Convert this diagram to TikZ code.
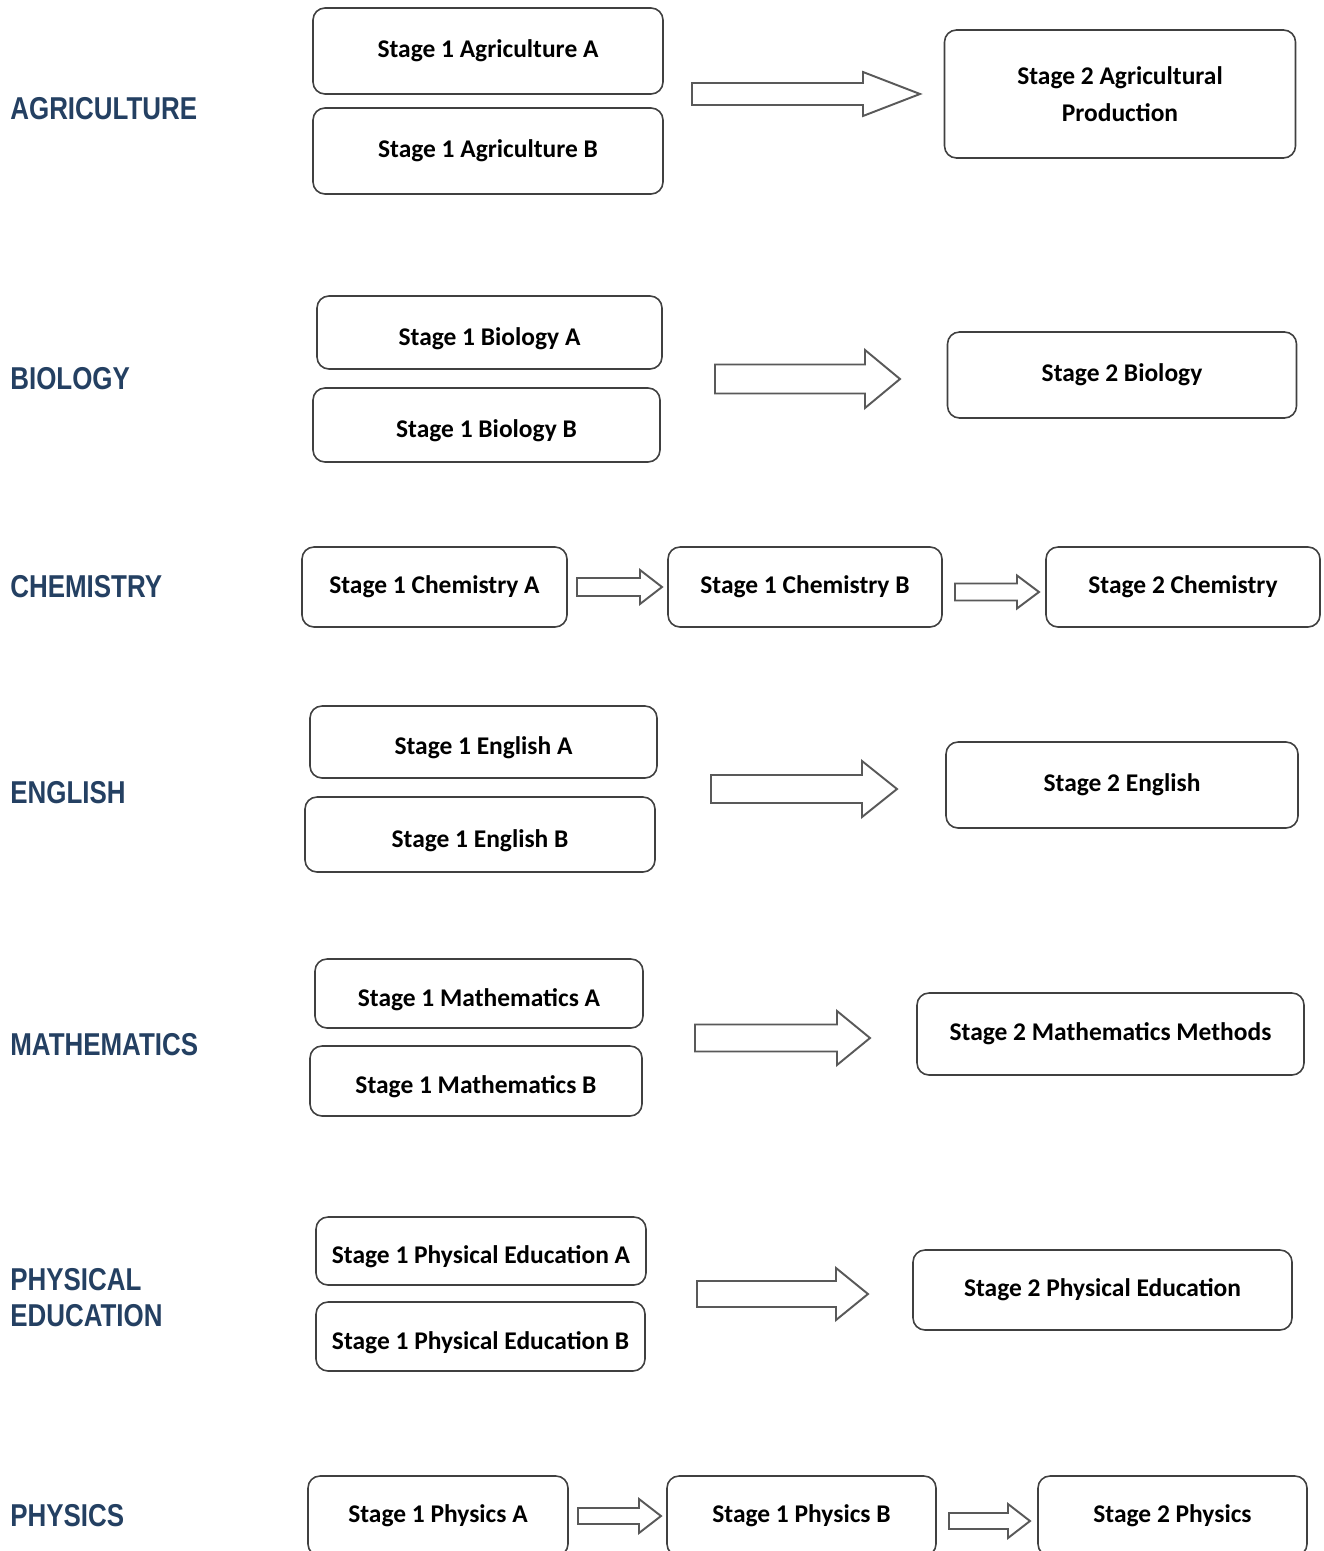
\documentclass[tikz,border=0pt]{standalone}
\usepackage{fontspec}
\setmainfont{Carlito}
\newfontfamily\subjfont[FakeStretch=0.82]{Liberation Sans}
\usetikzlibrary{positioning,calc}
\definecolor{subjblue}{RGB}{36,64,98}

% tail, tip, half shaft, half head, head length
\newcommand{\blockarrow}[5]{%
  \draw[fatarrow] ($(#1)+(0,-#3)$) -- ($(#2)+(-#5,-#3)$) -- ($(#2)+(-#5,-#4)$)
    -- (#2) -- ($(#2)+(-#5,#4)$) -- ($(#2)+(-#5,#3)$) -- ($(#1)+(0,#3)$) -- cycle;}

\begin{document}
\begin{tikzpicture}[x=0.02cm,y=-0.02cm,
    course/.style 2 args={draw=black!75, line width=0.9pt, rounded corners=0.24cm,
      fill=white, align=center, inner sep=2pt,
      minimum width=#1*0.02cm, minimum height=#2*0.02cm,
      font=\fontsize{14.5}{21}\selectfont\bfseries},
    lowtext/.style={text height=17.5pt, text depth=3pt},
    subject/.style={anchor=west, align=left, inner sep=0pt, text=subjblue,
      font=\subjfont\fontsize{18}{20.5}\selectfont\bfseries},
    fatarrow/.style={draw=black!65, line width=1.1pt, fill=white, line join=miter}]
  \clip (0,0) rectangle (1323,1551);
  \useasboundingbox (0,0) rectangle (1323,1551);

  % subjects
  \foreach \y/\name/\txt in {109/agri/AGRICULTURE, 379/bio/BIOLOGY, 587/chem/CHEMISTRY,
      793/eng/ENGLISH, 1045/math/MATHEMATICS, 1298/pe/{PHYSICAL\\EDUCATION}, 1516/phys/PHYSICS}
    \node[subject] (\name-label) at (10,\y) {\txt};

  % agriculture
  \node[course={350}{86}] (agriA) at (488,51) {Stage 1 Agriculture A};
  \node[course={350}{86}] (agriB) at (488,151) {Stage 1 Agriculture B};
  \node[course={351}{128}] (agri2) at (1120,94) {Stage 2 Agricultural\\Production};
  \coordinate (agri-tail) at (692,94);
  \coordinate (agri-tip) at (920,94);
  \blockarrow{agri-tail}{agri-tip}{11}{22}{57}

  % biology
  \node[course={345}{73}, lowtext] (bioA) at (489.5,332.5) {Stage 1 Biology A};
  \node[course={347}{74}, lowtext] (bioB) at (486.5,425) {Stage 1 Biology B};
  \node[course={349}{86}] (bio2) at (1122,375) {Stage 2 Biology};
  \coordinate (bio-tail) at (715,379);
  \coordinate (bio-tip) at (900,379);
  \blockarrow{bio-tail}{bio-tip}{14.5}{29}{35}

  % chemistry
  \node[course={265}{80}] (chemA) at (434.5,587) {Stage 1 Chemistry A};
  \node[course={274}{80}] (chemB) at (805,587) {Stage 1 Chemistry B};
  \node[course={274}{80}] (chem2) at (1183,587) {Stage 2 Chemistry};
  \coordinate (chemA-tail) at (577,587);
  \coordinate (chemA-tip) at (662,587);
  \blockarrow{chemA-tail}{chemA-tip}{9}{17}{22}
  \coordinate (chemB-tail) at (955,592);
  \coordinate (chemB-tip) at (1039,592);
  \blockarrow{chemB-tail}{chemB-tip}{8.5}{16.5}{22}

  % english
  \node[course={347}{72}, lowtext] (engA) at (483.5,742) {Stage 1 English A};
  \node[course={350}{75}, lowtext] (engB) at (480,834.5) {Stage 1 English B};
  \node[course={352}{86}] (eng2) at (1122,785) {Stage 2 English};
  \coordinate (eng-tail) at (711,789);
  \coordinate (eng-tip) at (897,789);
  \blockarrow{eng-tail}{eng-tip}{14}{28}{35}

  % mathematics
  \node[course={328}{69}, lowtext] (mathA) at (479,993.5) {Stage 1 Mathematics A};
  \node[course={332}{70}, lowtext] (mathB) at (476,1081) {Stage 1 Mathematics B};
  \node[course={387}{82}] (math2) at (1110.5,1034) {Stage 2 Mathematics Methods};
  \coordinate (math-tail) at (695,1038);
  \coordinate (math-tip) at (870,1038);
  \blockarrow{math-tail}{math-tip}{13.5}{27}{33}

  % physical education
  \node[course={330}{68}, lowtext] (peA) at (481,1251) {Stage 1 Physical Education A};
  \node[course={329}{69}, lowtext] (peB) at (480.5,1336.5) {Stage 1 Physical Education B};
  \node[course={379}{80}] (pe2) at (1102.5,1290) {Stage 2 Physical Education};
  \coordinate (pe-tail) at (697,1294);
  \coordinate (pe-tip) at (868,1294);
  \blockarrow{pe-tail}{pe-tip}{13}{26}{32}

  % physics
  \node[course={260}{80}] (physA) at (438,1516) {Stage 1 Physics A};
  \node[course={269}{80}] (physB) at (801.5,1516) {Stage 1 Physics B};
  \node[course={269}{80}] (phys2) at (1172.5,1516) {Stage 2 Physics};
  \coordinate (physA-tail) at (578,1516);
  \coordinate (physA-tip) at (661,1516);
  \blockarrow{physA-tail}{physA-tip}{8}{17}{22}
  \coordinate (physB-tail) at (949,1521);
  \coordinate (physB-tip) at (1030,1521);
  \blockarrow{physB-tail}{physB-tip}{8}{17}{22}
\end{tikzpicture}
\end{document}
